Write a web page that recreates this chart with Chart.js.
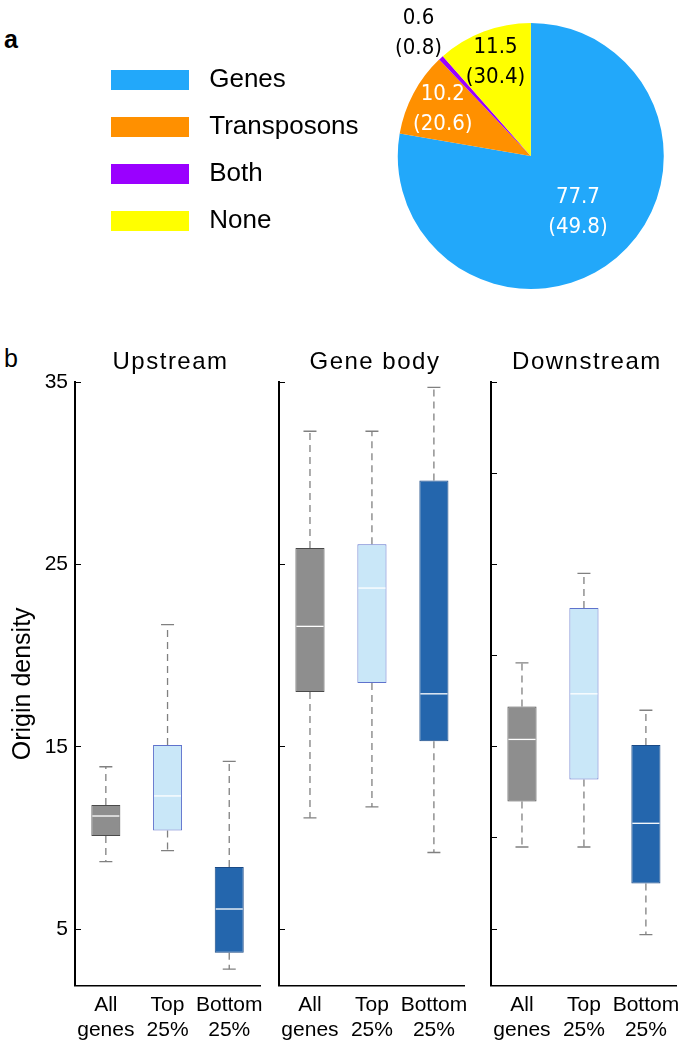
<!DOCTYPE html>
<html>
<head>
<meta charset="utf-8">
<script src="https://cdn.jsdelivr.net/npm/chart.js@4.4.1/dist/chart.umd.min.js"></script>
<style>
  html, body { margin: 0; padding: 0; background: #fff; }
  body { width: 687px; height: 1050px; position: relative; overflow: hidden;
         font-family: "Liberation Sans", Arial, sans-serif; }
  .wrap { position: absolute; }
  .tag { position: absolute; font-size: 25px; color: #000; line-height: 1; }
</style>
</head>
<body>
<div class="tag" style="left:4px;top:27px;font-weight:bold">a</div>
<div class="tag" style="left:4px;top:346px">b</div>
<div class="wrap" style="left:0;top:0;width:720px;height:312px"><canvas id="pieChart"></canvas></div>
<div class="wrap" style="left:0;top:330px;width:270px;height:720px"><canvas id="upChart"></canvas></div>
<div class="wrap" style="left:270px;top:330px;width:205px;height:720px"><canvas id="bodyChart"></canvas></div>
<div class="wrap" style="left:480px;top:330px;width:207px;height:720px"><canvas id="downChart"></canvas></div>

<script>
// panel a: share of origins (%), value in brackets = share of genome
const pieLabels = ["Genes", "Transposons", "Both", "None"];
const piePercent = [77.7, 10.2, 0.6, 11.5];
const pieGenome = [49.8, 20.6, 0.8, 30.4];
const pieColors = ["#22a8fa", "#ff9000", "#9a00ff", "#ffff00"];
const pieTextColors = ["#fff", "#fff", "#000", "#000"];
const pieTextRadius = [0.55, 0.75, 1.25, 0.75];

// panel b: [whisker low, q1, median, q3, whisker high]
const groups = [["All", "genes"], ["Top", "25%"], ["Bottom", "25%"]];
const upstream = [[8.7, 10.1, 11.2, 11.8, 13.9], [9.3, 10.4, 12.3, 15.1, 21.7], [2.8, 3.7, 6.1, 8.4, 14.2]];
const geneBody = [[11.1, 18.0, 21.6, 25.9, 32.3], [11.7, 18.5, 23.7, 26.1, 32.3], [9.2, 15.3, 17.9, 29.6, 34.7]];
const downstream = [[9.5, 12.0, 15.4, 17.2, 19.6], [9.5, 13.2, 17.9, 22.6, 24.5], [4.7, 7.5, 10.8, 15.1, 17.0]];
const majorTicks = [5, 15, 25, 35];
const minorTicks = [5, 10, 15, 20, 25, 30, 35];
const yMin = 1.9, yMax = 35;

const boxFill = ["#8e8e8e", "#c9e7f8", "#2466ad"];
const boxEdge = ["#4a4a4a", "#5f72cc", "#1a4a86"];

Chart.defaults.font.family = '"Liberation Sans", Arial, sans-serif';
Chart.defaults.color = "#000";
Chart.defaults.animation = false;

const pieText = {
  id: "pieText",
  afterDatasetsDraw(chart) {
    const ctx = chart.ctx;
    const arcs = chart.getDatasetMeta(0).data;
    ctx.save();
    ctx.font = '22px "Liberation Sans Narrow", "DejaVu Sans Condensed", sans-serif';
    ctx.textAlign = "center";
    ctx.textBaseline = "middle";
    arcs.forEach((arc, i) => {
      const mid = (arc.startAngle + arc.endAngle) / 2;
      const r = arc.outerRadius * pieTextRadius[i];
      const x = arc.x + Math.cos(mid) * r;
      const y = arc.y + Math.sin(mid) * r;
      ctx.fillStyle = pieTextColors[i];
      ctx.fillText(piePercent[i].toFixed(1), x, y - 15);
      ctx.fillText("(" + pieGenome[i].toFixed(1) + ")", x, y + 15);
    });
    ctx.restore();
  }
};

new Chart(document.getElementById("pieChart"), {
  type: "pie",
  data: {
    labels: pieLabels,
    datasets: [{ data: piePercent, backgroundColor: pieColors, borderWidth: 0 }]
  },
  options: {
    responsive: true,
    maintainAspectRatio: false,
    layout: { padding: { left: 90, top: 23, bottom: 23, right: 27 } },
    plugins: {
      legend: {
        position: "left",
        align: "start",
        title: { display: true, text: "", font: { size: 10 }, padding: { top: 11, bottom: 0 } },
        labels: {
          boxWidth: 78, boxHeight: 20, padding: 21, font: { size: 26 }, color: "#000",
          generateLabels: chart => Chart.overrides.pie.plugins.legend.labels.generateLabels(chart)
            .map(item => Object.assign(item, { text: " " + item.text }))
        }
      },
      tooltip: { enabled: false }
    }
  },
  plugins: [pieText]
});

function boxParts(title, stats) {
  return {
    id: "boxParts",
    beforeDatasetsDraw(chart) {
      const ctx = chart.ctx;
      const y = chart.scales.y;
      const bars = chart.getDatasetMeta(0).data;
      ctx.save();
      ctx.strokeStyle = "#808080";
      ctx.lineWidth = 1.3;
      stats.forEach((s, i) => {
        const x = bars[i].x;
        const lo = y.getPixelForValue(s[0]), hi = y.getPixelForValue(s[4]);
        ctx.setLineDash([7, 5]);
        ctx.beginPath();
        ctx.moveTo(x, y.getPixelForValue(s[1])); ctx.lineTo(x, lo);
        ctx.moveTo(x, y.getPixelForValue(s[3])); ctx.lineTo(x, hi);
        ctx.stroke();
        ctx.setLineDash([]);
        ctx.beginPath();
        ctx.moveTo(x - 6.5, lo); ctx.lineTo(x + 6.5, lo);
        ctx.moveTo(x - 6.5, hi); ctx.lineTo(x + 6.5, hi);
        ctx.stroke();
      });
      ctx.restore();
    },
    afterDatasetsDraw(chart) {
      const ctx = chart.ctx;
      const y = chart.scales.y;
      const bars = chart.getDatasetMeta(0).data;
      const area = chart.chartArea;
      ctx.save();
      ctx.strokeStyle = "#fff";
      ctx.lineWidth = 1.3;
      stats.forEach((s, i) => {
        const b = bars[i];
        const m = y.getPixelForValue(s[2]);
        ctx.beginPath();
        ctx.moveTo(b.x - b.width / 2 + 1, m); ctx.lineTo(b.x + b.width / 2 - 1, m);
        ctx.stroke();
      });
      // panel heading
      ctx.fillStyle = "#000";
      ctx.font = '24px "Liberation Sans", Arial, sans-serif';
      ctx.letterSpacing = "1.5px";
      ctx.textAlign = "center";
      ctx.textBaseline = "alphabetic";
      ctx.fillText(title, (area.left + area.right) / 2 + 3, 39);
      ctx.restore();
    }
  };
}

function makePanel(id, title, stats, tickVals, first, axisWidth, padRight) {
  new Chart(document.getElementById(id), {
    type: "bar",
    data: {
      labels: groups,
      datasets: [{
        data: stats.map(s => [s[1], s[3]]),
        backgroundColor: boxFill,
        borderColor: boxEdge,
        borderWidth: 1,
        borderSkipped: false,
        barPercentage: 0.47,
        categoryPercentage: 1
      }]
    },
    options: {
      responsive: true,
      maintainAspectRatio: false,
      layout: { padding: { top: 52, right: padRight, bottom: 0, left: 0 } },
      plugins: { legend: { display: false }, tooltip: { enabled: false } },
      scales: {
        x: {
          grid: { display: false, drawTicks: false },
          border: { display: true, color: "#000", width: 1.5 },
          ticks: { font: { size: 21 }, color: "#000", padding: 7, maxRotation: 0, autoSkip: false }
        },
        y: {
          min: yMin,
          max: yMax,
          afterFit: s => { s.width = axisWidth; },
          afterBuildTicks: s => { s.ticks = tickVals.map(v => ({ value: v })); },
          grid: { display: true, drawOnChartArea: false, drawTicks: true, tickLength: -6, color: "#000", lineWidth: 1 },
          border: { display: true, color: "#000", width: 2 },
          ticks: { display: first, font: { size: 21 }, color: "#000", padding: 13 },
          title: { display: first, text: "Origin density", font: { size: 25 }, color: "#000", padding: { top: 8, bottom: 0 } }
        }
      }
    },
    plugins: [boxParts(title, stats)]
  });
}

makePanel("upChart", "Upstream", upstream, majorTicks, true, 75, 3);
makePanel("bodyChart", "Gene body", geneBody, majorTicks, false, 9, 5);
makePanel("downChart", "Downstream", downstream, minorTicks, false, 11, 5);
</script>
</body>
</html>
